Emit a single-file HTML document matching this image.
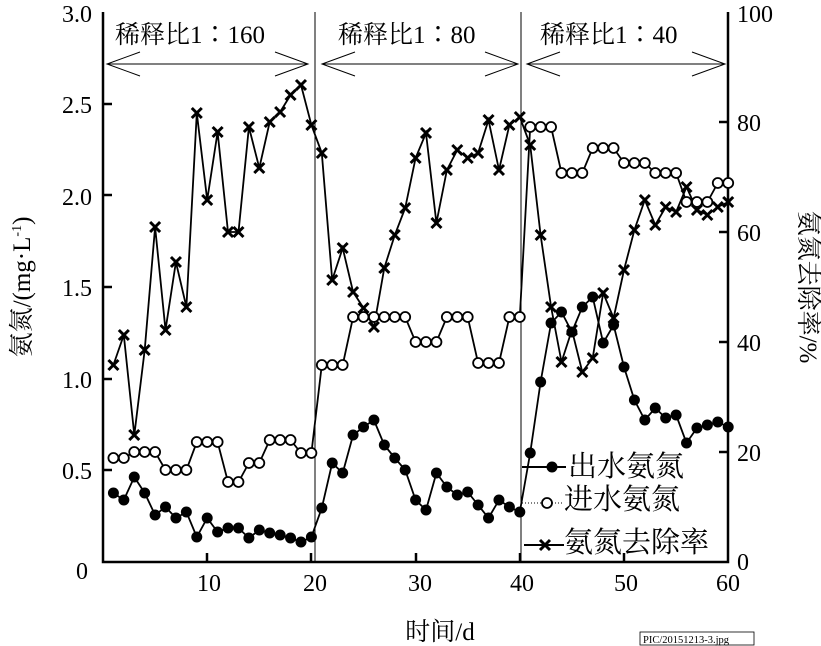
<!DOCTYPE html>
<html><head><meta charset="utf-8"><style>
html,body{margin:0;padding:0;background:#fff;width:821px;height:646px;overflow:hidden}
svg{display:block}
text{font-family:"Liberation Serif","Noto Serif CJK SC",serif;fill:#000}
</style></head><body>
<svg id="s" width="821" height="646" viewBox="0 0 821 646" xmlns="http://www.w3.org/2000/svg">
<rect width="821" height="646" fill="#fff"/>
<g stroke="#000" stroke-width="2.5" fill="none">
<polyline points="103,12 103,562 728,562 728,12"/>
</g>
<g stroke="#000" stroke-width="1">
<line x1="315" y1="12" x2="315" y2="562"/>
<line x1="521" y1="12" x2="521" y2="562"/>
</g>
<g stroke="#000" stroke-width="2.5">
<line x1="103" y1="470" x2="112" y2="470"/><line x1="103" y1="379" x2="112" y2="379"/>
<line x1="103" y1="287" x2="112" y2="287"/><line x1="103" y1="195" x2="112" y2="195"/>
<line x1="103" y1="104" x2="112" y2="104"/>
<line x1="728" y1="452" x2="719" y2="452"/><line x1="728" y1="342" x2="719" y2="342"/>
<line x1="728" y1="232" x2="719" y2="232"/><line x1="728" y1="122" x2="719" y2="122"/>
<line x1="207" y1="562" x2="207" y2="553"/><line x1="311" y1="562" x2="311" y2="553"/>
<line x1="416" y1="562" x2="416" y2="553"/><line x1="520" y1="562" x2="520" y2="553"/>
<line x1="624" y1="562" x2="624" y2="553"/>
</g>
<g font-size="24" text-anchor="end">
<text x="92" y="22">3.0</text><text x="92" y="113">2.5</text><text x="92" y="205">2.0</text>
<text x="92" y="296">1.5</text><text x="92" y="388">1.0</text><text x="92" y="479">0.5</text>
<text x="88" y="579">0</text>
</g>
<g font-size="24" text-anchor="start">
<text x="737" y="22">100</text><text x="737" y="131">80</text><text x="737" y="241">60</text>
<text x="737" y="351">40</text><text x="737" y="461">20</text><text x="737" y="570">0</text>
</g>
<g font-size="24" text-anchor="middle">
<text x="209" y="591">10</text><text x="315" y="591">20</text><text x="420" y="591">30</text>
<text x="522" y="591">40</text><text x="626" y="591">50</text><text x="728" y="591">60</text>
</g>
<text x="440" y="640" font-size="25" text-anchor="middle">时间/d</text>
<text transform="translate(30,287) rotate(-90)" font-size="25" text-anchor="middle">氨氮/(mg·L<tspan font-size="14" dy="-9">-1</tspan><tspan dy="9">)</tspan></text>
<text transform="translate(800,287) rotate(90)" font-size="25" text-anchor="middle">氨氮去除率/%</text>
<g font-size="25">
<text x="115" y="43">稀释比1∶160</text><text x="338" y="43">稀释比1∶80</text><text x="540" y="43">稀释比1∶40</text>
</g>
<g stroke="#000" stroke-width="1" fill="none">
<line x1="107" y1="64" x2="308" y2="64"/><polyline points="140,52 107,64 140,76"/><polyline points="275,52 308,64 275,76"/>
<line x1="322" y1="64" x2="518" y2="64"/><polyline points="355,52 322,64 355,76"/><polyline points="485,52 518,64 485,76"/>
<line x1="527" y1="64" x2="725" y2="64"/><polyline points="560,52 527,64 560,76"/><polyline points="692,52 725,64 692,76"/>
</g>
<g id="data"></g>
<g font-size="29">
<text x="568" y="476">出水氨氮</text><text x="564" y="509">进水氨氮</text><text x="564" y="552">氨氮去除率</text>
</g>
<rect x="640" y="632" width="114" height="13" fill="#fff" stroke="#000" stroke-width="0.8"/>
<text x="643" y="643" font-size="10.5" font-family="Liberation Mono,monospace">PIC/20151213-3.jpg</text>
</svg>
<script>
var eff=[493,500,477,493,515,507,518,512,537,518,532,528,528,538,530,533,535,538,542,537,508,463,473,435,427,420,445,458,470,500,510,473,487,495,492,505,518,500,507,512,453,382,323,312,332,307,297,343,325,367,400,420,408,418,415,443,428,425,422,427];
var inf=[458,458,452,452,452,470,470,470,442,442,442,482,482,463,463,440,440,440,453,453,365,365,365,317,317,317,317,317,317,342,342,342,317,317,317,363,363,363,317,317,127,127,127,173,173,173,148,148,148,163,163,163,173,173,173,202,202,202,183,183];
var rem=[365,335,435,350,227,330,262,307,113,200,132,232,232,127,168,122,112,95,85,125,153,280,248,292,308,327,268,235,208,158,133,223,170,150,158,153,120,170,125,117,145,235,307,362,330,372,358,293,318,270,230,200,225,207,212,187,210,215,207,202];
function X(d){return 103+d*10.42;}
var g=document.getElementById('data'),h='';
function pl(a){return a.map(function(y,i){return X(i+1).toFixed(1)+','+y}).join(' ');}
h+='<polyline points="'+pl(inf)+'" fill="none" stroke="#000" stroke-width="1.8"/>';
h+='<polyline points="'+pl(rem)+'" fill="none" stroke="#000" stroke-width="1.8"/>';
h+='<polyline points="'+pl(eff)+'" fill="none" stroke="#000" stroke-width="1.8"/>';
inf.forEach(function(y,i){h+='<circle cx="'+X(i+1)+'" cy="'+y+'" r="5" fill="#fff" stroke="#000" stroke-width="1.8"/>';});
eff.forEach(function(y,i){h+='<circle cx="'+X(i+1)+'" cy="'+y+'" r="5.5" fill="#000"/>';});
rem.forEach(function(y,i){var x=X(i+1);h+='<path d="M'+(x-5)+','+(y-5)+'L'+(x+5)+','+(y+5)+'M'+(x-5)+','+(y+5)+'L'+(x+5)+','+(y-5)+'" stroke="#000" stroke-width="3"/>';});
h+='<line x1="522" y1="467" x2="566" y2="467" stroke="#000" stroke-width="2"/><circle cx="552" cy="467" r="5.5" fill="#000"/>';
h+='<line x1="522" y1="503" x2="562" y2="503" stroke="#000" stroke-width="1" stroke-dasharray="1,2"/><circle cx="547" cy="503" r="5" fill="#fff" stroke="#000" stroke-width="1.8"/>';
h+='<line x1="524" y1="545" x2="564" y2="545" stroke="#000" stroke-width="2"/><path d="M540,540L550,550M540,550L550,540" stroke="#000" stroke-width="3"/>';
g.innerHTML=h;
</script>
</body></html>
